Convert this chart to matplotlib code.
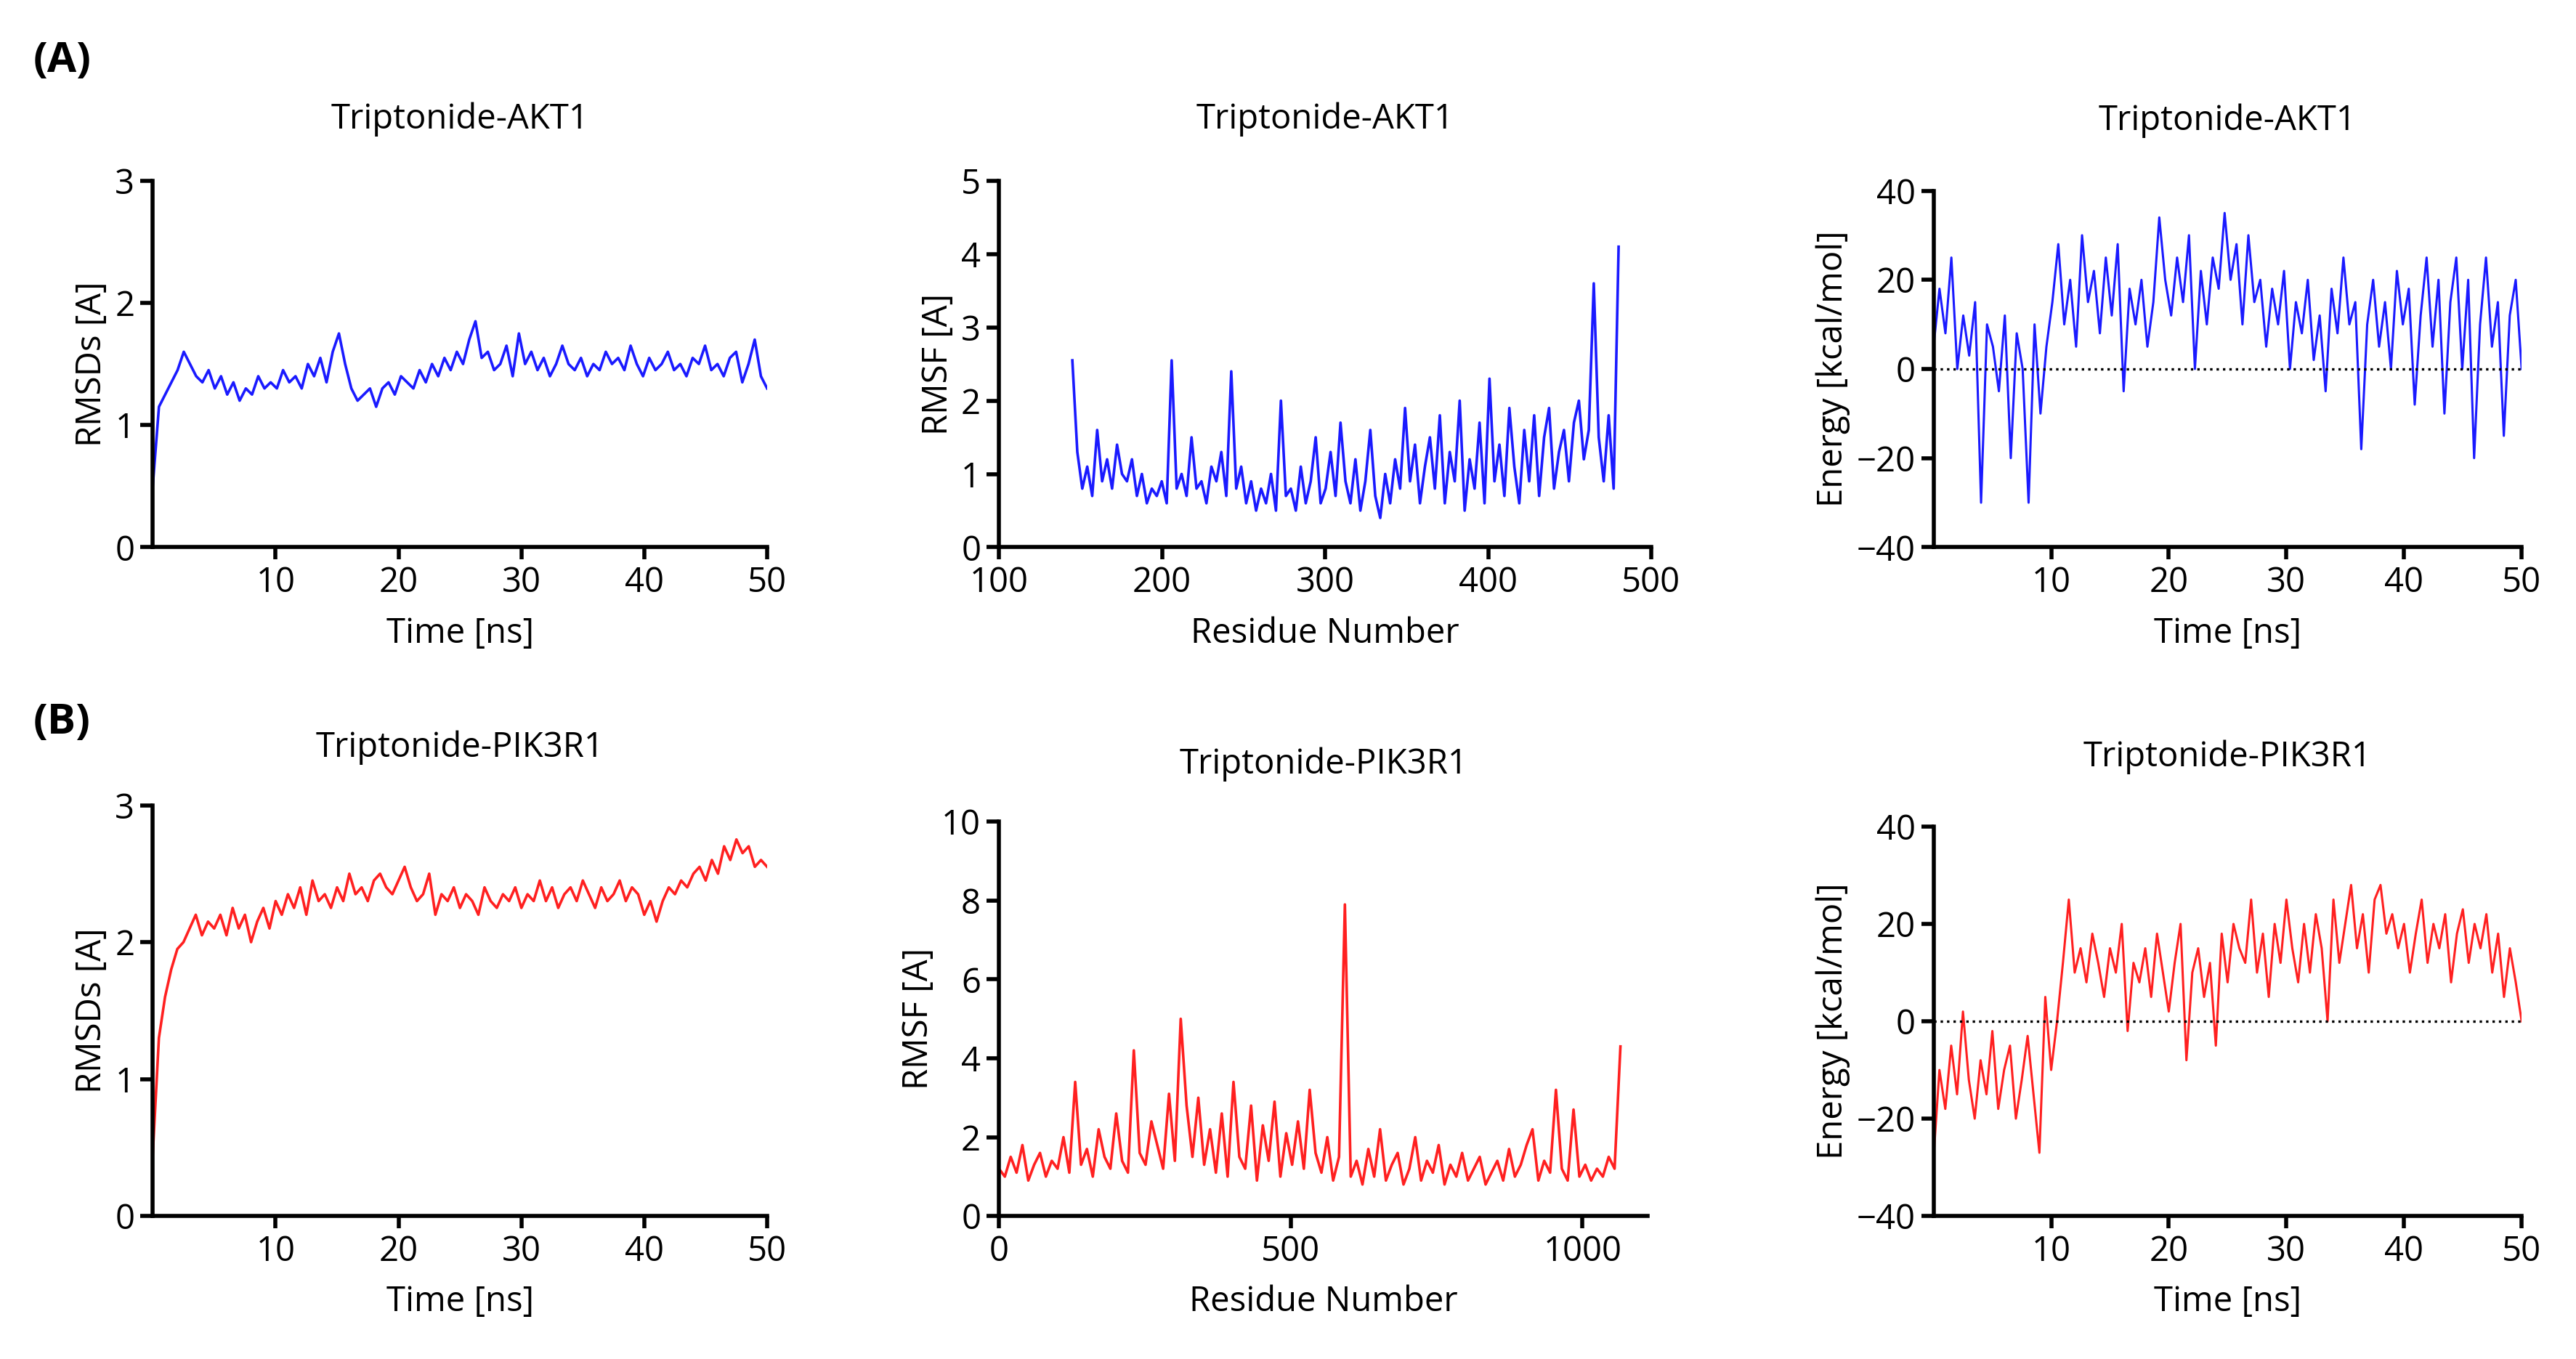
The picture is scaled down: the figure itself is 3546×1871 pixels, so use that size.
import matplotlib.pyplot as plt
import numpy as np

plt.rcParams['font.family'] = ['Open Sans', 'DejaVu Sans']
plt.rcParams['font.size'] = 17

# --- data ---
a_rmsd = [0.5, 1.15, 1.25, 1.35, 1.45, 1.6, 1.5, 1.4, 1.35, 1.45, 1.3, 1.4, 1.25, 1.35, 1.2, 1.3, 1.25, 1.4,
          1.3, 1.35, 1.3, 1.45, 1.35, 1.4, 1.3, 1.5, 1.4, 1.55, 1.35, 1.6, 1.75, 1.5, 1.3, 1.2, 1.25, 1.3, 1.15,
          1.3, 1.35, 1.25, 1.4, 1.35, 1.3, 1.45, 1.35, 1.5, 1.4, 1.55, 1.45, 1.6, 1.5, 1.7, 1.85, 1.55, 1.6,
          1.45, 1.5, 1.65, 1.4, 1.75, 1.5, 1.6, 1.45, 1.55, 1.4, 1.5, 1.65, 1.5, 1.45, 1.55, 1.4, 1.5, 1.45,
          1.6, 1.5, 1.55, 1.45, 1.65, 1.5, 1.4, 1.55, 1.45, 1.5, 1.6, 1.45, 1.5, 1.4, 1.55, 1.5, 1.65, 1.45,
          1.5, 1.4, 1.55, 1.6, 1.35, 1.5, 1.7, 1.4, 1.3]
a_rmsf = [2.55, 1.3, 0.8, 1.1, 0.7, 1.6, 0.9, 1.2, 0.8, 1.4, 1.0, 0.9, 1.2, 0.7, 1.0, 0.6, 0.8, 0.7,
          0.9, 0.6, 2.55, 0.8, 1.0, 0.7, 1.5, 0.8, 0.9, 0.6, 1.1, 0.9, 1.3, 0.7, 2.4, 0.8, 1.1, 0.6, 0.9,
          0.5, 0.8, 0.6, 1.0, 0.5, 2.0, 0.7, 0.8, 0.5, 1.1, 0.6, 0.9, 1.5, 0.6, 0.8, 1.3, 0.7, 1.7, 0.9,
          0.6, 1.2, 0.5, 0.9, 1.6, 0.7, 0.4, 1.0, 0.6, 1.2, 0.8, 1.9, 0.9, 1.4, 0.6, 1.1, 1.5, 0.8, 1.8,
          0.6, 1.3, 0.9, 2.0, 0.5, 1.2, 0.8, 1.7, 0.6, 2.3, 0.9, 1.4, 0.7, 1.9, 1.1, 0.6, 1.6, 0.9, 1.8,
          0.7, 1.5, 1.9, 0.8, 1.3, 1.6, 0.9, 1.7, 2.0, 1.2, 1.6, 3.6, 1.5, 0.9, 1.8, 0.8, 4.1]
a_energy = [5, 18, 8, 25, 0, 12, 3, 15, -30, 10, 5, -5, 12, -20, 8, 0, -30, 10, -10, 5, 15, 28, 10, 20,
            5, 30, 15, 22, 8, 25, 12, 28, -5, 18, 10, 20, 5, 15, 34, 20, 12, 25, 15, 30, 0, 22, 10, 25, 18,
            35, 20, 28, 10, 30, 15, 20, 5, 18, 10, 22, 0, 15, 8, 20, 2, 12, -5, 18, 8, 25, 10, 15, -18, 10,
            20, 5, 15, 0, 22, 10, 18, -8, 12, 25, 5, 20, -10, 15, 25, 0, 20, -20, 10, 25, 5, 15, -15, 12, 20, 0]
b_rmsd = [0.45, 1.3, 1.6, 1.8, 1.95, 2.0, 2.1, 2.2, 2.05, 2.15, 2.1, 2.2, 2.05, 2.25, 2.1, 2.2, 2.0,
          2.15, 2.25, 2.1, 2.3, 2.2, 2.35, 2.25, 2.4, 2.2, 2.45, 2.3, 2.35, 2.25, 2.4, 2.3, 2.5, 2.35,
          2.4, 2.3, 2.45, 2.5, 2.4, 2.35, 2.45, 2.55, 2.4, 2.3, 2.35, 2.5, 2.2, 2.35, 2.3, 2.4, 2.25,
          2.35, 2.3, 2.2, 2.4, 2.3, 2.25, 2.35, 2.3, 2.4, 2.25, 2.35, 2.3, 2.45, 2.3, 2.4, 2.25, 2.35,
          2.4, 2.3, 2.45, 2.35, 2.25, 2.4, 2.3, 2.35, 2.45, 2.3, 2.4, 2.35, 2.2, 2.3, 2.15, 2.3, 2.4,
          2.35, 2.45, 2.4, 2.5, 2.55, 2.45, 2.6, 2.5, 2.7, 2.6, 2.75, 2.65, 2.7, 2.55, 2.6, 2.55]
b_rmsf = [1.2, 1.0, 1.5, 1.1, 1.8, 0.9, 1.3, 1.6, 1.0, 1.4, 1.2, 2.0, 1.1, 3.4, 1.3, 1.7, 1.0, 2.2,
          1.5, 1.2, 2.6, 1.4, 1.1, 4.2, 1.6, 1.3, 2.4, 1.8, 1.2, 3.1, 1.4, 5.0, 2.8, 1.5, 3.0, 1.3,
          2.2, 1.1, 2.6, 1.0, 3.4, 1.5, 1.2, 2.8, 0.9, 2.3, 1.4, 2.9, 1.0, 2.1, 1.3, 2.4, 1.2, 3.2,
          1.6, 1.1, 2.0, 0.9, 1.5, 7.9, 1.0, 1.4, 0.8, 1.7, 1.0, 2.2, 0.9, 1.3, 1.6, 0.8, 1.2, 2.0,
          0.9, 1.4, 1.1, 1.8, 0.8, 1.3, 1.0, 1.6, 0.9, 1.2, 1.5, 0.8, 1.1, 1.4, 0.9, 1.7, 1.0, 1.3,
          1.8, 2.2, 0.9, 1.4, 1.1, 3.2, 1.2, 0.9, 2.7, 1.0, 1.3, 0.9, 1.2, 1.0, 1.5, 1.2, 4.3]
b_energy = [-28, -10, -18, -5, -15, 2, -12, -20, -8, -15, -2, -18, -10, -5, -20, -12, -3, -15, -27,
            5, -10, 0, 12, 25, 10, 15, 8, 18, 12, 5, 15, 10, 20, -2, 12, 8, 15, 5, 18, 10, 2, 12, 20,
            -8, 10, 15, 5, 12, -5, 18, 8, 20, 15, 12, 25, 10, 18, 5, 20, 12, 25, 15, 8, 20, 10, 22, 15,
            0, 25, 12, 20, 28, 15, 22, 10, 25, 28, 18, 22, 15, 20, 10, 18, 25, 12, 20, 15, 22, 8, 18,
            23, 12, 20, 15, 22, 10, 18, 5, 15, 8, 0]

BLUE = '#1a1aff'
RED = '#ff2020'


def style(ax):
    for s in ('top', 'right'):
        ax.spines[s].set_visible(False)
    for s in ('left', 'bottom'):
        ax.spines[s].set_linewidth(2)
    ax.tick_params(width=2, length=6, labelsize=17, pad=3)
    ax.xaxis.labelpad = 8
    ax.yaxis.labelpad = 3


fig = plt.figure(figsize=(17.73, 9.355), dpi=200)

# row A
ax = fig.add_axes([0.0593, 0.5973, 0.2385, 0.2697])
ax.plot(np.linspace(0, 50, len(a_rmsd)), a_rmsd, color=BLUE, lw=1.3)
ax.set_xlim(0, 50); ax.set_ylim(0, 3)
ax.set_xticks([10, 20, 30, 40, 50]); ax.set_yticks([0, 1, 2, 3])
ax.set_xlabel('Time [ns]'); ax.set_ylabel('RMSDs [A]')
ax.set_title('Triptonide-AKT1', fontsize=17, pad=26)
style(ax)

ax = fig.add_axes([0.3878, 0.5973, 0.2532, 0.2697])
ax.plot(np.linspace(145, 480, len(a_rmsf)), a_rmsf, color=BLUE, lw=1.3)
ax.set_xlim(100, 500); ax.set_ylim(0, 5)
ax.set_xticks([100, 200, 300, 400, 500])
ax.set_xlabel('Residue Number'); ax.set_ylabel('RMSF [A]')
ax.set_title('Triptonide-AKT1', fontsize=17, pad=26)
style(ax)

ax = fig.add_axes([0.7506, 0.5973, 0.2283, 0.2624])
t = np.linspace(0, 50, len(a_energy))
ax.plot(t, a_energy, color=BLUE, lw=1.1)
ax.axhline(0, color='black', ls=':', lw=1.2)
ax.set_xlim(0, 50); ax.set_ylim(-40, 40)
ax.set_xticks([10, 20, 30, 40, 50]); ax.set_yticks([-40, -20, 0, 20, 40])
ax.set_xlabel('Time [ns]'); ax.set_ylabel('Energy [kcal/mol]')
ax.set_title('Triptonide-AKT1', fontsize=17, pad=30)
style(ax)

# row B
ax = fig.add_axes([0.0593, 0.1052, 0.2385, 0.3023])
ax.plot(np.linspace(0, 50, len(b_rmsd)), b_rmsd, color=RED, lw=1.3)
ax.set_xlim(0, 50); ax.set_ylim(0, 3)
ax.set_xticks([10, 20, 30, 40, 50]); ax.set_yticks([0, 1, 2, 3])
ax.set_xlabel('Time [ns]'); ax.set_ylabel('RMSDs [A]')
ax.set_title('Triptonide-PIK3R1', fontsize=17, pad=24)
style(ax)

ax = fig.add_axes([0.3878, 0.1052, 0.2519, 0.2902])
ax.plot(np.linspace(0, 1065, len(b_rmsf)), b_rmsf, color=RED, lw=1.3)
ax.set_xlim(0, 1112); ax.set_ylim(0, 10)
ax.set_xticks([0, 500, 1000]); ax.set_yticks([0, 2, 4, 6, 8, 10])
ax.set_xlabel('Residue Number'); ax.set_ylabel('RMSF [A]')
ax.set_title('Triptonide-PIK3R1', fontsize=17, pad=24)
style(ax)

ax = fig.add_axes([0.7506, 0.1052, 0.2283, 0.2866])
t = np.linspace(0, 50, len(b_energy))
ax.plot(t, b_energy, color=RED, lw=1.1)
ax.axhline(0, color='black', ls=':', lw=1.2)
ax.set_xlim(0, 50); ax.set_ylim(-40, 40)
ax.set_xticks([10, 20, 30, 40, 50]); ax.set_yticks([-40, -20, 0, 20, 40])
ax.set_xlabel('Time [ns]'); ax.set_ylabel('Energy [kcal/mol]')
ax.set_title('Triptonide-PIK3R1', fontsize=17, pad=30)
style(ax)

fig.text(0.013, 0.955, '(A)', fontsize=21, fontweight='bold', va='center')
fig.text(0.013, 0.468, '(B)', fontsize=21, fontweight='bold', va='center')

fig.savefig('out.png', dpi=200)
